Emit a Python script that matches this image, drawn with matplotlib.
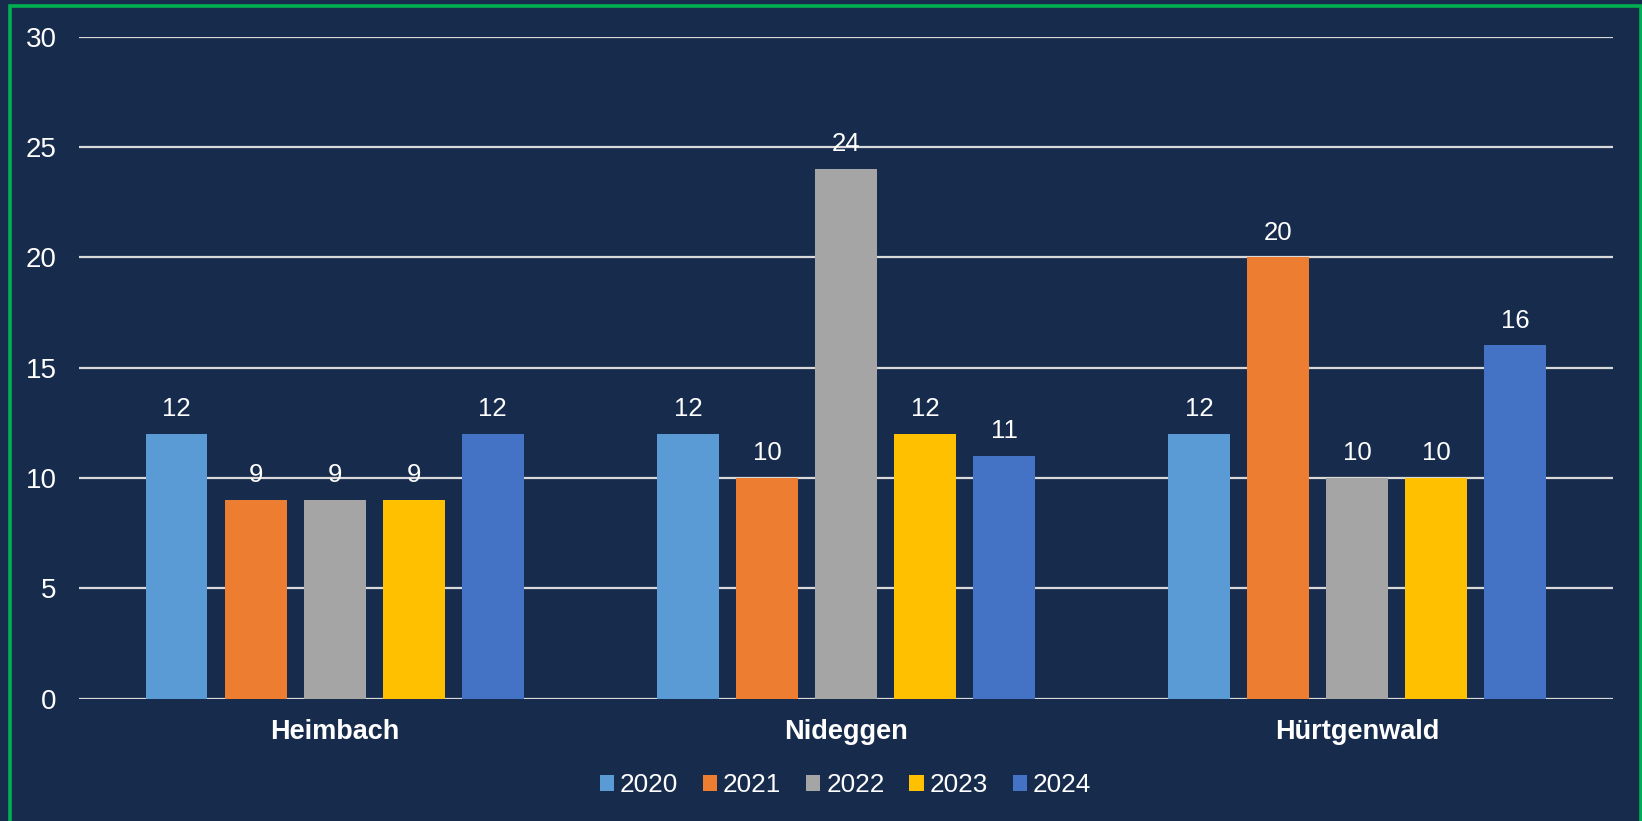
import numpy as np
import matplotlib.pyplot as plt
from matplotlib.patches import Rectangle

plt.rcParams['font.family'] = ['Liberation Sans', 'DejaVu Sans']

# chart data
categories = ['Heimbach', 'Nideggen', 'Hürtgenwald']
years = ['2020', '2021', '2022', '2023', '2024']
values = {
    '2020': [12, 12, 12],
    '2021': [9, 10, 20],
    '2022': [9, 24, 10],
    '2023': [9, 12, 10],
    '2024': [12, 11, 16],
}
colors = ['#5B9BD5', '#ED7D31', '#A5A5A5', '#FFC000', '#4472C4']
y_ticks = [0, 5, 10, 15, 20, 25, 30]

BG = '#172B4D'


def plot_chart():
    fig = plt.figure(figsize=(16.42, 8.21), dpi=100, facecolor=BG)
    ax = fig.add_axes([0.0481, 0.1492, 0.9342, 0.8063])
    ax.set_facecolor(BG)

    x = np.arange(len(categories))
    pitch = 0.1546
    width = 0.121
    for i, year in enumerate(years):
        pos = x + (i - 2) * pitch
        bars = ax.bar(pos, values[year], width=width, color=colors[i],
                      label=year, zorder=3)
        ax.bar_label(bars, padding=9, color='white', fontsize=18.5, zorder=4)

    ax.set_xlim(-0.5, len(categories) - 0.5)
    ax.set_ylim(0, 30)
    ax.set_yticks(y_ticks)
    ax.set_xticks(x)
    ax.set_xticklabels(categories, fontweight='bold')
    ax.tick_params(axis='y', length=0, pad=16, labelcolor='white', labelsize=20)
    ax.tick_params(axis='x', length=0, pad=15, labelcolor='white', labelsize=19.5)
    ax.grid(axis='y', color='#D9D9D9', linewidth=1.6, zorder=1)
    for s in ax.spines.values():
        s.set_visible(False)

    leg = ax.legend(loc='center', bbox_to_anchor=(0.4996, -0.131), ncol=5,
                    frameon=False, fontsize=18.8, handlelength=0.55,
                    handleheight=0.55, handletextpad=0.22, columnspacing=0.95)
    for t in leg.get_texts():
        t.set_color('white')

    # green frame around the chart
    W, H = 1642, 821
    fig.patches.append(Rectangle((9.5 / W, -0.05), (1640.5 - 9.5) / W, 1.05 - 6.5 / H,
                                 transform=fig.transFigure, fill=False,
                                 edgecolor='#00B050', linewidth=2.6))

    fig.savefig('out.png', dpi=100, facecolor=BG)


plot_chart()
